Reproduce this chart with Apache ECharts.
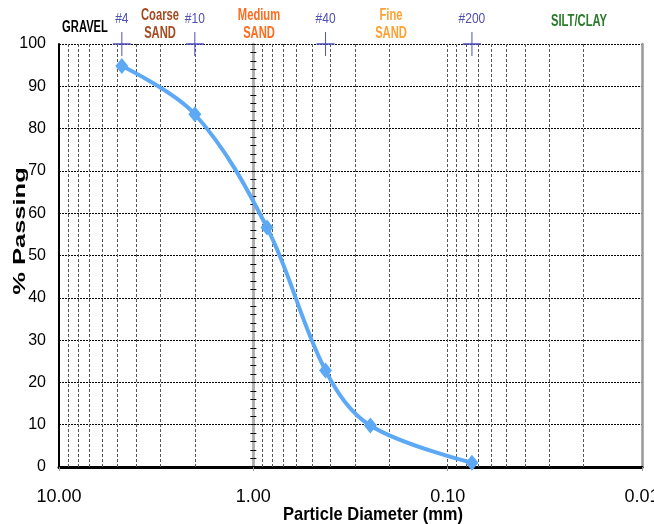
<!DOCTYPE html>
<html>
<head>
<meta charset="utf-8">
<script src="https://cdn.jsdelivr.net/npm/echarts@6/dist/echarts.min.js"></script>
<style>html,body{margin:0;padding:0;background:#fff}#c{width:654px;height:524px}</style>
</head>
<body>
<div id="c"></div>
<script>
// ---- data ----
const particleSizes = [4.75, 2.0, 0.85, 0.425, 0.25, 0.075];
const percentPassing = [94.8, 83.4, 56.6, 22.8, 9.8, 1.0];
const sieveMarkSizes = [4.75, 2.0, 0.425, 0.075];
const sieveMarkLabels = ['#4', '#10', '#40', '#200'];
const minorGridValues = [9, 8, 7, 6, 5, 4, 3, 2, 0.9, 0.8, 0.7, 0.6, 0.5, 0.4, 0.3, 0.2, 0.1, 0.09, 0.08, 0.07, 0.06, 0.05, 0.04, 0.03, 0.02];
const soilLabels = [
  {lines: ['GRAVEL'], color: '#000000'},
  {lines: ['Coarse', 'SAND'], color: '#a34a1f'},
  {lines: ['Medium', 'SAND'], color: '#ff6a1c'},
  {lines: ['Fine', 'SAND'], color: '#ffa033'},
  {lines: ['SILT/CLAY'], color: '#2a7a2a'}
];

// ---- layout ----
const labelPos = [[85, 28], [160, 25], [259, 25], [391, 25], [579, 21.5]];
const NARROW = "'Liberation Sans Narrow','Arial Narrow','Liberation Sans',Arial,sans-serif";
const SANS = "'Liberation Sans',Arial,sans-serif";
const G = {left: 59, right: 12, top: 44, bottom: 57, outerBoundsMode: 'none', containLabel: false};

const chart = echarts.init(document.getElementById('c'));

const graphics = [];
soilLabels.forEach((s, i) => {
  graphics.push({
    type: 'text', x: labelPos[i][0], y: labelPos[i][1], scaleX: 0.7, z: 10,
    style: {text: s.lines.join('\n'), fill: s.color, font: 'bold 16px ' + SANS,
      textAlign: 'center', textVerticalAlign: 'middle', lineHeight: 18}
  });
});
graphics.push({
  type: 'text', x: 20, y: 231, rotation: Math.PI / 2, scaleX: 1.5, z: 10,
  style: {text: '% Passing', fill: '#000', font: 'bold 17px ' + SANS, textAlign: 'center', textVerticalAlign: 'middle'}
});
graphics.push({
  type: 'text', x: 373, y: 515, scaleX: 0.87, z: 10,
  style: {text: 'Particle Diameter (mm)', fill: '#000', font: 'bold 19px ' + SANS, textAlign: 'center', textVerticalAlign: 'middle'}
});

function buildOption(oneOffset) {
  return {
    animation: false,
    backgroundColor: '#fff',
    grid: G,
    graphic: graphics,
    xAxis: [{
      type: 'log', logBase: 10, min: 0.01, max: 10, inverse: true,
      axisLine: {show: true, lineStyle: {color: '#000', width: 2}},
      axisTick: {show: true, length: 4, lineStyle: {color: '#999'}},
      axisLabel: {formatter: v => Number(v).toFixed(2), fontSize: 18, fontFamily: NARROW, color: '#000', margin: 21},
      splitLine: {show: false}
    }, {
      type: 'log', logBase: 10, min: 0.01, max: 10, inverse: true, position: 'top',
      axisLine: {show: true, lineStyle: {color: '#000', width: 3}},
      axisTick: {show: false}, axisLabel: {show: false}, splitLine: {show: false}
    }],
    yAxis: [{
      type: 'value', min: 0, max: 100, interval: 10,
      axisLine: {show: true, lineStyle: {color: '#000', width: 2}},
      axisTick: {show: false},
      axisLabel: {fontSize: 16, fontFamily: NARROW, color: '#000', margin: 13},
      splitLine: {show: true, lineStyle: {color: '#000', width: 1, type: [2, 1]}}
    }, {
      type: 'value', min: 0, max: 100, interval: 2, position: 'left', offset: -oneOffset,
      axisLine: {show: true, lineStyle: {color: '#b0b0b0', width: 3}},
      axisTick: {show: true, length: 3, lineStyle: {color: '#000', width: 1}},
      axisLabel: {show: false}, splitLine: {show: false}
    }, {
      type: 'value', min: 0, max: 100, interval: 2, position: 'left', offset: -oneOffset,
      axisLine: {show: false},
      axisTick: {show: true, inside: true, length: 3, lineStyle: {color: '#000', width: 1}},
      axisLabel: {show: false}, splitLine: {show: false}
    }, {
      type: 'value', min: 0, max: 100, position: 'right',
      axisLine: {show: true, lineStyle: {color: '#999', width: 2.5}},
      axisTick: {show: false}, axisLabel: {show: false}, splitLine: {show: false}
    }],
    series: [{
      type: 'line', data: [], z: 1, silent: true,
      markLine: {
        silent: true, symbol: 'none', label: {show: false},
        lineStyle: {color: '#555', width: 1, type: [3, 2]},
        data: minorGridValues.map(v => ({xAxis: v}))
      }
    }, {
      type: 'line', z: 5, smooth: 0.35,
      data: particleSizes.map((d, i) => [d, percentPassing[i]]),
      lineStyle: {color: '#5da9f6', width: 4},
      itemStyle: {color: '#5da9f6'},
      symbol: 'diamond', symbolSize: [13, 16]
    }, {
      type: 'custom', z: 6, clip: false, silent: true,
      data: sieveMarkSizes.map((s, i) => [s, 100, i]),
      renderItem: function (params, api) {
        const p = api.coord([api.value(0), 100]);
        const idx = api.value(2);
        return {
          type: 'group',
          children: [
            {type: 'line', shape: {x1: p[0], y1: p[1] - 12, x2: p[0], y2: p[1] + 12}, style: {stroke: '#4f4fc0', lineWidth: 1}},
            {type: 'line', shape: {x1: p[0] - 9, y1: p[1], x2: p[0] + 9, y2: p[1]}, style: {stroke: '#4f4fc0', lineWidth: 1.5}},
            {type: 'text', x: p[0], y: p[1] - 25, scaleX: 0.8,
              style: {text: sieveMarkLabels[idx], fill: '#5050b0', font: '15px ' + NARROW, textAlign: 'center', textVerticalAlign: 'middle'}}
          ]
        };
      }
    }]
  };
}

chart.setOption(buildOption(195));
const x1 = chart.convertToPixel({xAxisIndex: 0}, 1);
chart.setOption(buildOption(x1 - G.left));
</script>
</body>
</html>
